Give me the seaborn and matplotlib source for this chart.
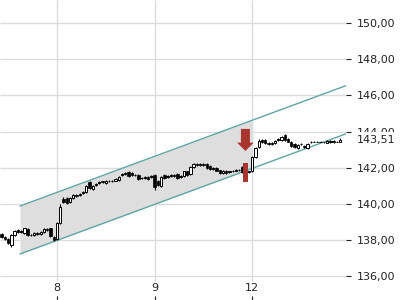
import numpy as np
import pandas as pd
import matplotlib
matplotlib.use("Agg")
import matplotlib.pyplot as plt
import seaborn as sns

# ---------------- data ----------------
day_labels = ["8", "9", "12"]
day_start_idx = [17, 47, 77]

opens = [
    138.35, 138.2, 138.05, 137.75, 138.3, 138.55, 138.45, 138.4, 138.6, 138.3,
    138.3, 138.4, 138.35, 138.45, 138.6, 138.65, 138.2, 138.05, 138.95, 140.3,
    140.35, 140.1, 140.35, 140.5, 140.5, 140.6, 140.65, 141.2, 140.85, 141.05,
    141.15, 141.25, 141.15, 141.3, 141.25, 141.3, 141.35, 141.6, 141.65, 141.75,
    141.7, 141.6, 141.6, 141.45, 141.45, 141.5, 141.5, 141.6, 141.3, 141.0,
    141.6, 141.5, 141.55, 141.6, 141.65, 141.5, 141.55, 141.8, 141.65, 142.05,
    142.2, 142.15, 142.2, 142.2, 142.1, 141.95, 142.0, 141.88, 141.7, 141.85,
    141.75, 141.8, 141.85, 141.9, 142.05, 141.98, 141.78, 141.8, 142.6, 143.15,
    143.55, 143.55, 143.35, 143.3, 143.35, 143.55, 143.55, 143.8, 143.6, 143.45,
    143.3, 143.1, 143.3, 143.2, 143.1, 143.4, 143.45, 143.45, 143.45, 143.42,
    143.38, 143.4, 143.5, 143.45, 143.42]

closes = [
    138.2, 138.05, 137.85, 138.3, 138.5, 138.45, 138.5, 138.65, 138.3, 138.3,
    138.4, 138.35, 138.45, 138.6, 138.55, 138.25, 138.0, 138.95, 139.85, 140.1,
    140.05, 140.35, 140.5, 140.45, 140.55, 140.65, 141.0, 140.9, 141.0, 141.1,
    141.2, 141.2, 141.3, 141.25, 141.3, 141.4, 141.5, 141.65, 141.7, 141.55,
    141.6, 141.6, 141.4, 141.45, 141.5, 141.4, 141.55, 140.95, 141.05, 141.5,
    141.45, 141.55, 141.6, 141.55, 141.45, 141.55, 141.8, 141.6, 142.05, 142.2,
    142.15, 142.2, 142.15, 142.0, 141.95, 142.0, 141.85, 141.7, 141.85, 141.7,
    141.8, 141.85, 141.9, 141.9, 141.75, 141.8, 141.8, 142.6, 143.1, 143.5,
    143.4, 143.35, 143.3, 143.35, 143.5, 143.6, 143.72, 143.55, 143.45, 143.2,
    143.15, 143.25, 143.3, 143.15, 143.3, 143.45, 143.45, 143.42, 143.45, 143.4,
    143.5, 143.5, 143.42, 143.45, 143.51]

highs = [
    138.4, 138.25, 138.1, 138.35, 138.55, 138.6, 138.55, 138.7, 138.65, 138.35,
    138.45, 138.45, 138.5, 138.65, 138.65, 138.7, 138.25, 139.0, 140.0, 140.4,
    140.4, 140.4, 140.55, 140.55, 140.6, 140.7, 141.05, 141.3, 141.05, 141.15,
    141.25, 141.3, 141.35, 141.35, 141.35, 141.45, 141.55, 141.7, 141.75, 141.8,
    141.75, 141.65, 141.65, 141.5, 141.55, 141.55, 141.6, 141.65, 141.35, 141.55,
    141.65, 141.6, 141.65, 141.65, 141.7, 141.6, 141.85, 141.85, 142.1, 142.25,
    142.25, 142.25, 142.25, 142.25, 142.15, 142.05, 142.05, 141.9, 141.9, 141.9,
    141.85, 141.9, 141.95, 141.95, 142.1, 142.0, 141.85, 142.65, 143.15, 143.6,
    143.6, 143.6, 143.4, 143.4, 143.55, 143.65, 143.75, 143.85, 143.65, 143.5,
    143.35, 143.3, 143.35, 143.25, 143.35, 143.5, 143.5, 143.5, 143.5, 143.45,
    143.55, 143.55, 143.55, 143.5, 143.63]

lows = [
    138.15, 138.0, 137.8, 137.65, 138.25, 138.4, 138.4, 138.35, 138.25, 138.25,
    138.25, 138.3, 138.3, 138.4, 138.5, 138.2, 137.95, 138.0, 138.9, 140.05,
    140.0, 140.05, 140.3, 140.4, 140.45, 140.55, 140.6, 140.85, 140.8, 141.0,
    141.1, 141.15, 141.1, 141.2, 141.2, 141.25, 141.3, 141.55, 141.6, 141.5,
    141.55, 141.55, 141.35, 141.4, 141.4, 141.35, 141.45, 140.8, 141.0, 140.95,
    141.4, 141.45, 141.5, 141.5, 141.4, 141.45, 141.5, 141.55, 141.6, 142.0,
    142.1, 142.1, 142.1, 141.95, 141.9, 141.9, 141.8, 141.65, 141.65, 141.65,
    141.7, 141.75, 141.8, 141.85, 141.7, 141.75, 141.7, 141.75, 142.55, 143.1,
    143.35, 143.3, 143.25, 143.25, 143.3, 143.5, 143.5, 143.5, 143.4, 143.15,
    143.1, 143.05, 143.25, 143.1, 143.05, 143.35, 143.4, 143.4, 143.4, 143.35,
    143.35, 143.35, 143.38, 143.4, 143.4]

y_ticks = [136, 138, 140, 142, 144, 146, 148, 150]
last_price = 143.51

# trend channel (start/end points)
channel_x = [5.64, 105.8]
channel_upper = [139.89, 146.54]
channel_lower = [137.24, 143.88]
channel_fill_end = 76.77

# signal marker
signal_idx = 74.9
signal_bar_low, signal_bar_high = 141.2, 142.27
arrow_top, arrow_tip = 144.15, 142.93

# ---------------- style ----------------
sns.set_theme(style="white")
plt.rcParams['font.family'] = ['DejaVu Sans']

GRID = "#dcdcdc"
TEAL = "#5fa5a5"
RED = "#a8362f"
TXT = "#222222"

fig = plt.figure(figsize=(4, 3), dpi=100)
ax = fig.add_axes([0, 0, 346 / 400, 1])
XMIN, XMAX = -0.5, 105.8
YMIN, YMAX = 134.70, 151.27
ax.set_xlim(XMIN, XMAX)
ax.set_ylim(YMIN, YMAX)
for s in ax.spines.values():
    s.set_visible(False)
ax.set_facecolor("white")

# grid
ax.hlines(y_ticks, XMIN, XMAX, color=GRID, lw=1, zorder=0)
ax.vlines(day_start_idx, 135.75, YMAX, color=GRID, lw=1, zorder=0)

# channel fill
fx = np.array([channel_x[0], channel_fill_end])
f_up = np.interp(fx, channel_x, channel_upper)
f_lo = np.interp(fx, channel_x, channel_lower)
ax.fill_between(fx, f_lo, f_up, color="#dedede", lw=0, zorder=1)

# channel lines
ch = pd.DataFrame({
    "x": channel_x + channel_x,
    "y": channel_upper + channel_lower,
    "band": ["upper", "upper", "lower", "lower"],
})
sns.lineplot(data=ch, x="x", y="y", units="band", estimator=None,
             color=TEAL, lw=1, ax=ax, zorder=2, legend=False)

# candles
idx = np.arange(len(opens))
o = np.array(opens)
c = np.array(closes)
up = c >= o
ax.vlines(idx, lows, highs, color="black", lw=0.8, zorder=3)
ax.bar(idx[up], (c - o)[up], bottom=o[up], width=0.72,
       facecolor="white", edgecolor="black", lw=0.7, zorder=4)
ax.bar(idx[~up], (o - c)[~up], bottom=c[~up], width=0.72,
       color="black", edgecolor="black", lw=0.5, zorder=4)

# signal
ax.bar([signal_idx], [signal_bar_high - signal_bar_low], bottom=signal_bar_low,
       width=1.4, color=RED, lw=0, zorder=5)
ax.annotate("", xy=(signal_idx, arrow_tip), xytext=(signal_idx, arrow_top),
            arrowprops=dict(arrowstyle="simple,head_length=0.6,head_width=1.2,tail_width=0.65",
                            color=RED, lw=0, shrinkA=0, shrinkB=0, mutation_scale=10),
            zorder=6)

# axes ticks
ax.set_xlabel("")
ax.set_ylabel("")
ax.yaxis.tick_right()
ax.set_yticks(y_ticks)
ax.set_yticklabels([f"{v:.2f}".replace(".", ",") for v in y_ticks])
ax.tick_params(axis="y", direction="out", length=3.5, width=0.8, pad=4,
               labelsize=8, colors=TXT, right=True, left=False)
ax.set_xticks(day_start_idx)
ax.set_xticklabels(day_labels)
ax.tick_params(axis="x", direction="in", length=3, width=0.8, pad=-12,
               labelsize=8, colors=TXT, bottom=True)

# last price label
ax.annotate(f"{last_price:.2f}".replace(".", ","), xy=(1, last_price),
            xycoords=("axes fraction", "data"), xytext=(7.7, 0),
            textcoords="offset points", va="center", ha="left",
            fontsize=8, color=TXT, annotation_clip=False,
            bbox=dict(boxstyle="square,pad=0.3", fc="white", ec="none"))

fig.savefig("out.png", dpi=100)
